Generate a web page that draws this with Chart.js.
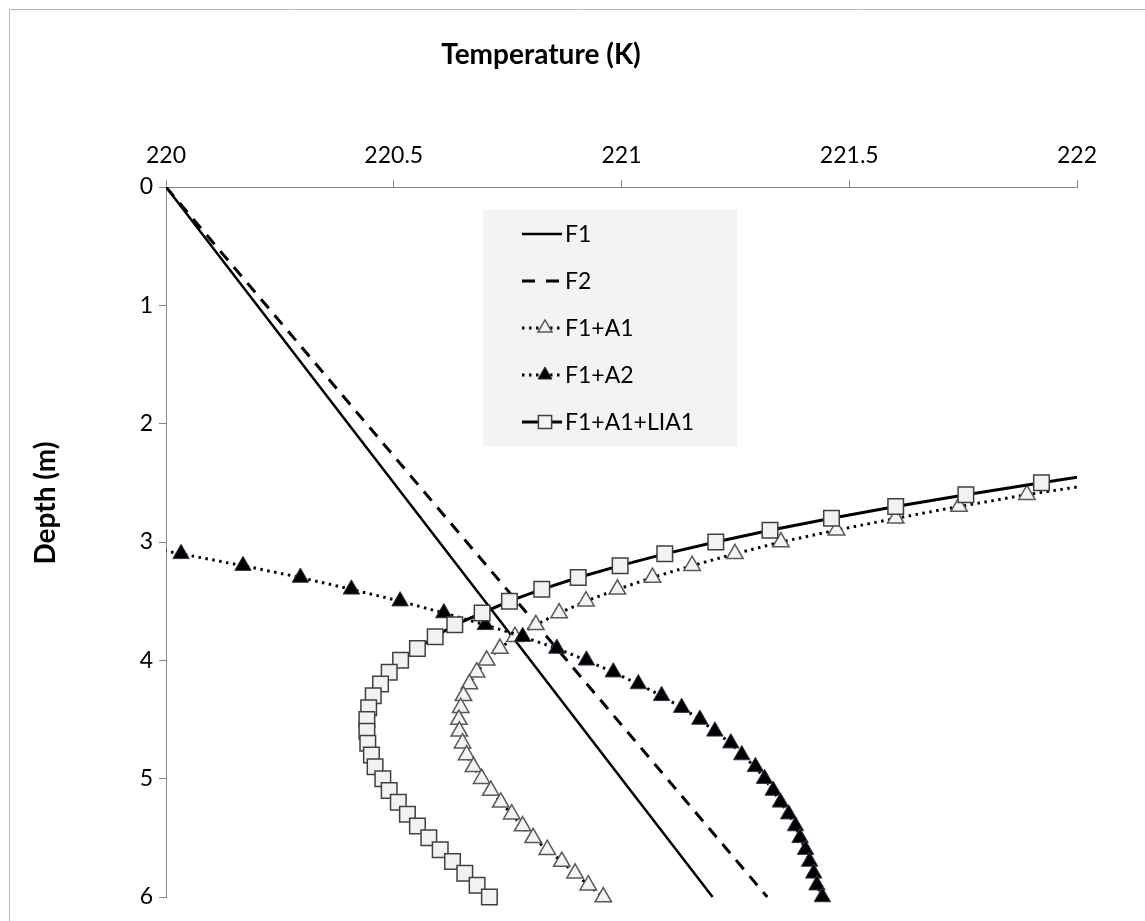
<!DOCTYPE html>
<html lang="en">
<head>
  <meta charset="UTF-8" />
  <title>Temperature vs Depth</title>
  <script src="https://cdn.jsdelivr.net/npm/chart.js"></script>
  <style>
    body {
      margin: 0;
      background: #fff;
    }
    canvas {
      display: block;
    }
  </style>
</head>
<body>
  <canvas id="profileChart" width="1145" height="921"></canvas>

  <script>
    // Depth (m) and temperature (K)
    const lineDepth = [0, 1, 2, 3, 4, 5, 6];
    const f1Temp = [220, 220.2, 220.4, 220.6, 220.8, 221.0, 221.2];
    const f2Temp = [220, 220.22, 220.44, 220.66, 220.88, 221.1, 221.32];

    const a1Depth = [2.5, 2.6, 2.7, 2.8, 2.9, 3.0, 3.1, 3.2, 3.3, 3.4, 3.5, 3.6,
      3.7, 3.8, 3.9, 4.0, 4.1, 4.2, 4.3, 4.4, 4.5, 4.6, 4.7, 4.8, 4.9, 5.0,
      5.1, 5.2, 5.3, 5.4, 5.5, 5.6, 5.7, 5.8, 5.9, 6.0];
    const a1Temp = [222.06, 221.890, 221.741, 221.602, 221.472, 221.350, 221.249,
      221.155, 221.068, 220.991, 220.922, 220.863, 220.812, 220.766, 220.733,
      220.704, 220.682, 220.666, 220.653, 220.647, 220.643, 220.644, 220.651,
      220.660, 220.675, 220.693, 220.713, 220.735, 220.759, 220.783, 220.806,
      220.837, 220.869, 220.898, 220.927, 220.960];

    const a2Depth = [3.0, 3.1, 3.2, 3.3, 3.4, 3.5, 3.6, 3.7, 3.8, 3.9, 4.0,
      4.1, 4.2, 4.3, 4.4, 4.5, 4.6, 4.7, 4.8, 4.9, 5.0, 5.1, 5.2, 5.3, 5.4,
      5.5, 5.6, 5.7, 5.8, 5.9, 6.0];
    const a2Temp = [219.89, 220.033, 220.169, 220.295, 220.407, 220.514, 220.610,
      220.701, 220.783, 220.858, 220.923, 220.982, 221.037, 221.088, 221.132,
      221.172, 221.205, 221.240, 221.264, 221.294, 221.314, 221.333, 221.349,
      221.367, 221.382, 221.392, 221.404, 221.413, 221.422, 221.429, 221.441];

    const liaDepth = [2.4, 2.5, 2.6, 2.7, 2.8, 2.9, 3.0, 3.1, 3.2, 3.3, 3.4,
      3.5, 3.6, 3.7, 3.8, 3.9, 4.0, 4.1, 4.2, 4.3, 4.4, 4.5, 4.6, 4.7, 4.8,
      4.9, 5.0, 5.1, 5.2, 5.3, 5.4, 5.5, 5.6, 5.7, 5.8, 5.9, 6.0];
    const liaTemp = [222.09, 221.922, 221.756, 221.602, 221.461, 221.326, 221.207,
      221.095, 220.997, 220.905, 220.825, 220.754, 220.694, 220.634, 220.591,
      220.552, 220.515, 220.490, 220.471, 220.455, 220.445, 220.441, 220.441,
      220.443, 220.451, 220.459, 220.476, 220.490, 220.510, 220.530, 220.552,
      220.577, 220.602, 220.629, 220.656, 220.683, 220.710];

    const seriesNames = ['F1', 'F2', 'F1+A1', 'F1+A2', 'F1+A1+LIA1'];
    const xTicks = [220, 220.5, 221, 221.5, 222];

    const FONT = 'Lato, "Open Sans", sans-serif';
    const dotted = [2.5, 4.5];
    const dashed = [12, 9];

    function pts(temps, depths) {
      return temps.map((t, i) => ({ x: t, y: depths[i] }));
    }

    const clipBox = { left: 0, top: 0, right: 0, bottom: 20 };

    const datasets = [
      {
        label: seriesNames[0],
        data: pts(f1Temp, lineDepth),
        borderColor: '#000', borderWidth: 2.5,
        pointRadius: 0, order: 4
      },
      {
        label: seriesNames[1],
        data: pts(f2Temp, lineDepth),
        borderColor: '#000', borderWidth: 3, borderDash: dashed,
        pointRadius: 0, order: 3
      },
      {
        label: seriesNames[2],
        data: pts(a1Temp, a1Depth),
        borderColor: '#000', borderWidth: 3, borderDash: dotted,
        pointStyle: 'triangle', pointRadius: 9.5, pointBorderWidth: 1.5,
        pointBackgroundColor: '#f4f4f4', pointBorderColor: '#595959',
        order: 2
      },
      {
        label: seriesNames[3],
        data: pts(a2Temp, a2Depth),
        borderColor: '#000', borderWidth: 3, borderDash: dotted,
        pointStyle: 'triangle', pointRadius: 9.5, pointBorderWidth: 1,
        pointBackgroundColor: '#000', pointBorderColor: '#3f3151',
        order: 1
      },
      {
        label: seriesNames[4],
        data: pts(liaTemp, liaDepth),
        borderColor: '#000', borderWidth: 3,
        pointStyle: 'rect', pointRadius: 11, pointBorderWidth: 1.5,
        pointBackgroundColor: '#f2f2f2', pointBorderColor: '#404040',
        order: 0
      }
    ];
    datasets.forEach(d => { d.showLine = true; d.clip = clipBox; d.fill = false; });

    // little marker painter for the legend
    function marker(ctx, ds, x, y, r) {
      ctx.save();
      ctx.setLineDash([]);
      ctx.fillStyle = ds.pointBackgroundColor;
      ctx.strokeStyle = ds.pointBorderColor;
      ctx.lineWidth = ds.pointBorderWidth;
      ctx.beginPath();
      if (ds.pointStyle === 'rect') {
        const s = Math.SQRT1_2 * r;
        ctx.rect(x - s, y - s, 2 * s, 2 * s);
      } else {
        ctx.moveTo(x, y - r);
        ctx.lineTo(x + r * 0.866, y + r / 2);
        ctx.lineTo(x - r * 0.866, y + r / 2);
        ctx.closePath();
      }
      ctx.fill();
      ctx.stroke();
      ctx.restore();
    }

    const decorations = {
      id: 'decorations',
      beforeDraw(chart) {
        const ctx = chart.ctx;
        ctx.save();
        ctx.fillStyle = '#fff';
        ctx.fillRect(0, 0, chart.width, chart.height);
        ctx.strokeStyle = '#b8b8b8';
        ctx.lineWidth = 1;
        ctx.beginPath();
        ctx.moveTo(9.5, chart.height);
        ctx.lineTo(9.5, 9.5);
        ctx.lineTo(chart.width, 9.5);
        ctx.stroke();
        ctx.restore();
      },
      afterDraw(chart) {
        const ctx = chart.ctx;
        ctx.save();
        // axis titles
        ctx.fillStyle = '#000';
        ctx.font = 'bold 28px ' + FONT;
        ctx.textAlign = 'center';
        ctx.textBaseline = 'middle';
        ctx.fillText('Temperature (K)', 541, 55);
        ctx.translate(46, 503);
        ctx.rotate(-Math.PI / 2);
        ctx.fillText('Depth (m)', 0, 0);
        ctx.restore();

        // legend box
        ctx.save();
        ctx.fillStyle = '#f2f3f3';
        ctx.fillRect(483, 210, 254, 236);
        chart.data.datasets.forEach((ds, i) => {
          const y = 234 + i * 47;
          ctx.save();
          ctx.strokeStyle = ds.borderColor;
          ctx.lineWidth = ds.borderWidth;
          ctx.setLineDash(ds.borderDash ? (ds.borderDash === dashed ? [13, 11] : ds.borderDash) : []);
          ctx.beginPath();
          ctx.moveTo(522, y);
          ctx.lineTo(562, y);
          ctx.stroke();
          ctx.restore();
          if (ds.pointRadius) marker(ctx, ds, 545, y, ds.pointRadius * 0.85);
          ctx.fillStyle = '#000';
          ctx.font = '23px ' + FONT;
          ctx.textAlign = 'left';
          ctx.textBaseline = 'middle';
          ctx.fillText(ds.label, 565, y + 1);
        });
        ctx.restore();
      }
    };

    const tickFont = { family: FONT, size: 23 };

    new Chart(document.getElementById('profileChart'), {
      type: 'scatter',
      data: { datasets },
      options: {
        responsive: false,
        animation: false,
        layout: { padding: { left: 0, top: 0, right: 68, bottom: 24 } },
        plugins: {
          legend: { display: false },
          tooltip: { enabled: false }
        },
        scales: {
          x: {
            type: 'linear',
            position: 'top',
            min: xTicks[0],
            max: xTicks[xTicks.length - 1],
            afterBuildTicks: s => { s.ticks = xTicks.map(v => ({ value: v })); },
            ticks: { font: tickFont, color: '#000', padding: 11, maxRotation: 0, callback: v => String(v) },
            grid: { drawOnChartArea: false, tickLength: 7, color: '#868686' },
            border: { color: '#868686' },
            afterFit: s => { s.height = 187; }
          },
          y: {
            type: 'linear',
            reverse: true,
            min: 0,
            max: 6,
            ticks: { stepSize: 1, font: tickFont, color: '#000', padding: 6, callback: v => String(v) },
            grid: { drawOnChartArea: false, tickLength: 7, color: '#868686' },
            border: { color: '#868686' },
            afterFit: s => { s.width = 166; }
          }
        }
      },
      plugins: [decorations]
    });
  </script>
</body>
</html>
